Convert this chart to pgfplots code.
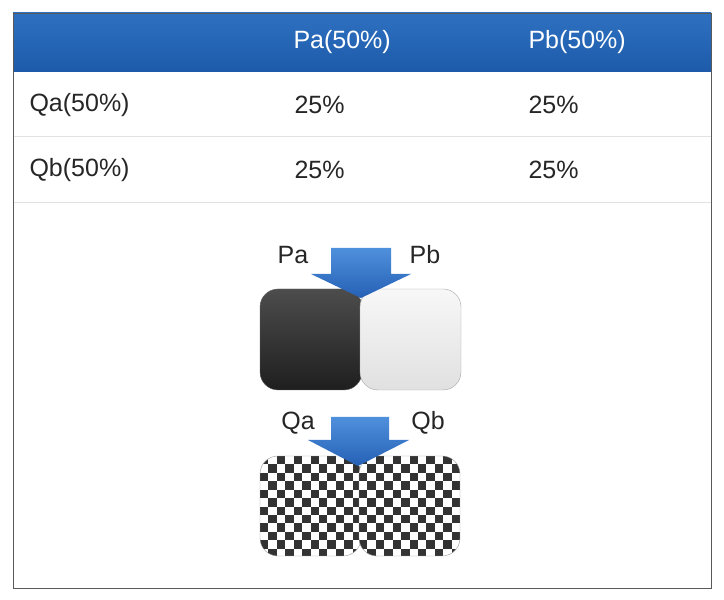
\documentclass[border=0pt]{standalone}
\usepackage{pgfplots}
\pgfplotsset{compat=1.18}
\usepackage{fontspec}
\setmainfont{Liberation Sans}
\definecolor{hdrA}{HTML}{2E70C0}
\definecolor{hdrB}{HTML}{1D5BAA}
\definecolor{arrA}{HTML}{4F90DC}
\definecolor{arrB}{HTML}{2560B5}
\definecolor{sep}{HTML}{E2E2E2}
\definecolor{chk}{HTML}{333333}
\newcommand{\tf}{\fontsize{25}{30}\selectfont}
\begin{document}
\begin{tikzpicture}
\begin{axis}[width=724pt,height=600pt,scale only axis,xmin=0,xmax=724,ymin=0,ymax=600,
  y dir=reverse,hide axis,clip=false]
\addplot[draw=none] coordinates {(0,0)(724,600)};
\coordinate (o) at (axis cs:0,0);
\end{axis}
\begin{scope}[shift={(o)},x=1pt,y=-1pt]
\fill[white] (13,13) rectangle (711,588);
\shade[top color=hdrA,bottom color=hdrB] (13,13) rectangle (711,72);
\draw[sep,line width=1pt] (13,137) -- (711,137);
\draw[sep,line width=1pt] (13,203) -- (711,203);
\draw[gray!70!black,line width=0.8pt] (13,13) rectangle (711,588);
\node[anchor=west,white,font=\tf] at (290,42) {Pa(50\%)};
\node[anchor=west,white,font=\tf] at (525,42) {Pb(50\%)};
\node[anchor=west,font=\tf,text=black!85] at (26,105) {Qa(50\%)};
\node[anchor=west,font=\tf,text=black!85] at (291,105) {25\%};
\node[anchor=west,font=\tf,text=black!85] at (525,105) {25\%};
\node[anchor=west,font=\tf,text=black!85] at (26,170) {Qb(50\%)};
\node[anchor=west,font=\tf,text=black!85] at (291,170) {25\%};
\node[anchor=west,font=\tf,text=black!85] at (525,170) {25\%};
\shade[top color=black!70,bottom color=black!88,rounded corners=18pt,draw=black!60]
  (260,289) rectangle (362,390);
\shade[top color=black!3,bottom color=black!12,rounded corners=18pt,draw=black!35]
  (360,289) rectangle (461,390);
\node[font=\tf,text=black!85] at (293,255) {Pa};
\node[font=\tf,text=black!85] at (425,255) {Pb};
\shade[top color=arrA,bottom color=arrB] (331,248) -- (391,248) -- (391,274)
  -- (411,274) -- (361,298) -- (311,274) -- (331,274) -- cycle;
\foreach \xo in {260,359}{
\begin{scope}
\clip[rounded corners=18pt] (\xo,456) rectangle (\xo+101,556);
\fill[white] (\xo,456) rectangle (\xo+101,556);
\foreach \i in {0,...,11}{\foreach \j in {0,...,11}{
  \pgfmathtruncatemacro{\p}{mod(\i+\j,2)}
  \ifnum\p=0 \fill[chk] ({\xo+\i*8.42},{456+\j*8.42}) rectangle ({\xo+(\i+1)*8.42},{456+(\j+1)*8.42});\fi}}
\end{scope}
\draw[black!40,rounded corners=18pt] (\xo,456) rectangle (\xo+101,556);
}
\node[font=\tf,text=black!85] at (298,423) {Qa};
\node[font=\tf,text=black!85] at (428,423) {Qb};
\shade[top color=arrA,bottom color=arrB] (331,417) -- (389,417) -- (389,440)
  -- (409,440) -- (358,466) -- (308,440) -- (331,440) -- cycle;
\end{scope}
\end{tikzpicture}
\end{document}
